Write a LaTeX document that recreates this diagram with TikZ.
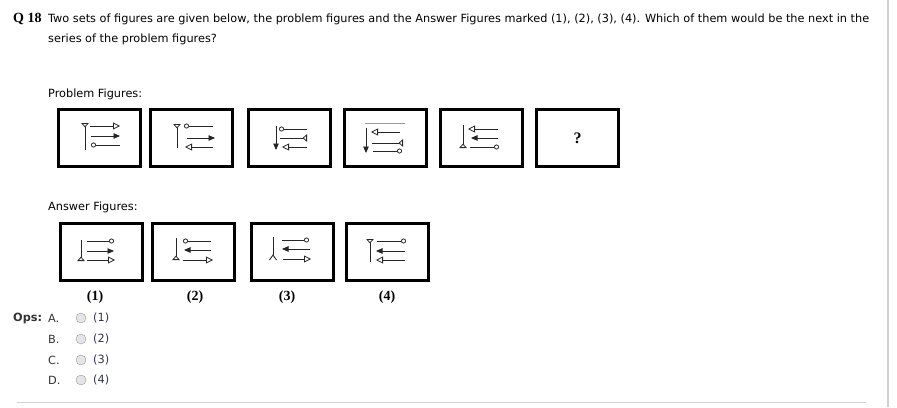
\documentclass[tikz,border=0pt]{standalone}
\usepackage{fontspec}
\setmainfont{DejaVu Sans}
\newfontfamily\qserif{Liberation Serif}
\usetikzlibrary{arrows.meta}
\definecolor{edgegrey}{rgb}{0.82, 0.82, 0.82}
\definecolor{optgrey}{rgb}{0.2, 0.2, 0.2}
\definecolor{optblue}{rgb}{0.2, 0.2, 0.33}
\definecolor{radiogrey}{rgb}{0.6, 0.6, 0.6}

\begin{document}
\begin{tikzpicture}[x=1pt, y=-1pt,
    figbox/.style={draw, line width=3pt, minimum width=82pt, minimum height=57pt, inner sep=0pt},
    glyph/.style={line width=0.9pt, black!85},
    txt/.style={anchor=west, inner sep=0pt, font=\fontsize{11.3}{13}\selectfont},
    numlabel/.style={inner sep=0pt, font=\qserif\bfseries\fontsize{14}{16}\selectfont},
    radio/.style={circle, draw=radiogrey, fill=black!10, minimum size=10pt, inner sep=0pt},
    opentri/.tip={Triangle[open, length=7pt, width=7pt, line width=0.8pt]},
    solidtri/.tip={Triangle[length=6.5pt, width=5.5pt]},
    revtri/.tip={Triangle[open, reversed, length=4.5pt, width=7.5pt, line width=0.8pt]},
    ring/.tip={Circle[open, length=5pt, line width=0.8pt]}]
        \useasboundingbox (0,0) rectangle (897,407);

        \draw [edgegrey, line width=1.5pt] (888,0) -- (888,407);
        \draw [edgegrey, line width=1pt] (17,402) -- (866,402);

        \node [anchor=west, inner sep=0pt, font=\qserif\bfseries\fontsize{14}{16}\selectfont] (qnum) at (13,19) {Q 18};
        \node [txt] (qline1) at (48,19) {Two sets of figures are given below, the problem figures and the Answer Figures marked (1), (2), (3), (4). Which of them would be the next in the};
        \node [txt] (qline2) at (48,39) {series of the problem figures?};
        \node [txt] (ptitle) at (48,94) {Problem Figures:};
        \node [txt] (atitle) at (48,207) {Answer Figures:};

        \node [figbox] (P1) at (99.5,138) {};
        \node [figbox] (P2) at (191.5,138) {};
        \node [figbox] (P3) at (289.5,138) {};
        \node [figbox] (P4) at (385,138) {};
        \node [figbox] (P5) at (481.5,138) {};
        \node [figbox, font=\qserif\bfseries\fontsize{16}{18}\selectfont] (P6) at (577.5,138) {?};

        \node [figbox] (A1) at (101,252) {};
        \node [figbox] (A2) at (193,252) {};
        \node [figbox] (A3) at (292.5,252) {};
        \node [figbox] (A4) at (387,252) {};

        % problem figure 1
        \draw [glyph, -revtri] (85,150) -- (85,123);
        \draw [glyph, -opentri] (90,126) -- (120,126);
        \draw [glyph, -solidtri] (91,136) -- (120,136);
        \draw [glyph, ring-] (91,145) -- (120,145);
        % problem figure 2
        \draw [glyph, -revtri] (177,148) -- (177,124);
        \draw [glyph, ring-] (184,126) -- (213,126);
        \draw [glyph, -solidtri] (187,138) -- (215,138);
        \draw [glyph, opentri-] (185,147) -- (213,147);
        % problem figure 3
        \draw [glyph, -solidtri] (276,126) -- (276,150);
        \draw [glyph, ring-] (279,129) -- (307,129);
        \draw [glyph, -revtri] (280,138) -- (307,138);
        \draw [glyph, opentri-] (282,147) -- (307,147);
        % problem figure 4
        \draw [black!40, line width=0.7pt] (365,123) -- (405,123);
        \draw [glyph, -solidtri] (366,128) -- (366,153);
        \draw [glyph, opentri-] (371,132) -- (400,132);
        \draw [glyph, -revtri] (372,143) -- (403,143);
        \draw [glyph, -ring] (373,151) -- (402,151);
        % problem figure 5
        \draw [glyph, -revtri] (463,125) -- (463,148);
        \draw [glyph, opentri-] (468,129) -- (498,129);
        \draw [glyph, solidtri-] (471,138) -- (498,138);
        \draw [glyph, -ring] (470,147) -- (499,147);

        % answer figure 1
        \draw [glyph, -revtri] (81,240) -- (81,261);
        \draw [glyph, -ring] (87,241) -- (114,241);
        \draw [glyph, -solidtri] (87,251) -- (114,251);
        \draw [glyph, -opentri] (87,260) -- (115,260);
        % answer figure 2
        \draw [glyph, -revtri] (176,238) -- (176,260);
        \draw [glyph, ring-] (183,241) -- (211,241);
        \draw [glyph, solidtri-] (184,250) -- (211,250);
        \draw [glyph, -opentri] (183,260) -- (213,260);
        % answer figure 3
        \draw [glyph] (273,237) -- (273,255);
        \draw [glyph] (269.5,260) -- (273,255) -- (276.5,260);
        \draw [glyph, -ring] (282,240) -- (309,240);
        \draw [glyph, solidtri-] (282,249) -- (310,249);
        \draw [glyph, -opentri] (283,259) -- (311,259);
        % answer figure 4
        \draw [glyph, -revtri] (370,262) -- (370,239);
        \draw [glyph, -ring] (377,241) -- (406,241);
        \draw [glyph, solidtri-] (376,251) -- (405,251);
        \draw [glyph, opentri-] (376,260) -- (405,260);

        \node [numlabel] (L1) at (95,297) {(1)};
        \node [numlabel] (L2) at (195,297) {(2)};
        \node [numlabel] (L3) at (287,297) {(3)};
        \node [numlabel] (L4) at (387,297) {(4)};

        \node [txt, optgrey, font=\bfseries\fontsize{11.3}{13}\selectfont] (ops) at (13,318) {Ops:};
        \node [txt, optgrey] (oA) at (48,318) {A.};
        \node [txt, optgrey] (oB) at (48,339) {B.};
        \node [txt, optgrey] (oC) at (48,360) {C.};
        \node [txt, optgrey] (oD) at (48,380) {D.};
        \node [radio] (rA) at (81,318) {};
        \node [radio] (rB) at (81,339) {};
        \node [radio] (rC) at (81,360) {};
        \node [radio] (rD) at (81,380) {};
        \node [txt, optblue] (cA) at (93,318) {(1)};
        \node [txt, optblue] (cB) at (93,339) {(2)};
        \node [txt, optblue] (cC) at (93,360) {(3)};
        \node [txt, optblue] (cD) at (93,380) {(4)};
    \end{tikzpicture}
\end{document}
